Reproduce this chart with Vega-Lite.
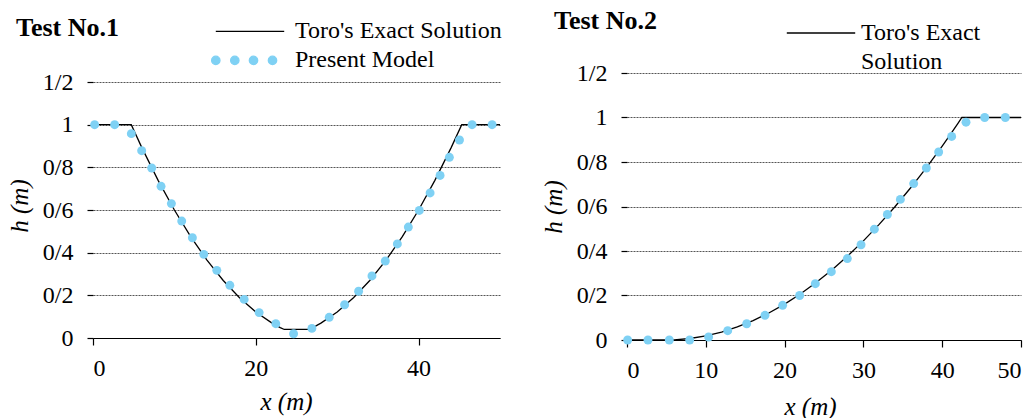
{
  "$schema": "https://vega.github.io/schema/vega-lite/v6.json",
  "background": "white",
  "padding": {"left": 7, "top": 8, "right": 0, "bottom": 0},
  "config": {
    "view": {"stroke": null},
    "axis": {
      "domainColor": "black",
      "domainWidth": 1.2,
      "tickColor": "black",
      "tickWidth": 1.2,
      "labelFontSize": 24,
      "labelColor": "black",
      "titleFontSize": 25,
      "titleFontStyle": "italic",
      "titleFontWeight": "normal",
      "titleColor": "black",
      "gridColor": "#555555",
      "gridDash": [2, 1],
      "gridWidth": 1
    },
    "axisX": {"grid": false, "tickSize": 7, "labelPadding": 11},
    "axisY": {"tickSize": 6, "labelPadding": 14, "titlePadding": 10, "domain": false},
    "legend": {
      "orient": "none",
      "title": null,
      "padding": 0,
      "labelFontSize": 24,
      "labelColor": "black",
      "labelLimit": 0,
      "symbolSize": 400,
      "rowPadding": 5
    }
  },
  "resolve": {
    "scale": {"color": "independent"},
    "legend": {"color": "independent"}
  },
  "concat": [
    {
      "width": 407,
      "height": 265,
      "title": {
        "text": "Test No.1",
        "anchor": "start",
        "frame": "group",
        "offset": -42.6,
        "dx": -77,
        "baseline": "alphabetic",
        "font": "Liberation Serif",
        "fontSize": 26,
        "fontWeight": "bold",
        "color": "black"
      },
      "encoding": {
        "x": {
          "field": "x",
          "type": "quantitative",
          "scale": {"domain": [0, 50], "nice": false},
          "axis": {
            "values": [0, 20, 40],
            "title": "x  (m)",
            "titleX": 193,
            "titlePadding": 9,
            "labelFont": "Liberation Serif",
            "titleFont": "Liberation Serif"
          }
        },
        "y": {
          "field": "h",
          "type": "quantitative",
          "scale": {"domain": [0, 1.2422], "nice": false},
          "axis": {
            "values": [0, 0.2, 0.4, 0.6, 0.8, 1, 1.2],
            "labelExpr": "replace(format(datum.value, '.1~f'), '.', '/')",
            "title": "h (m)",
            "grid": true,
            "labelFont": "Liberation Serif",
            "titleFont": "Liberation Serif"
          }
        }
      },
      "layer": [
        {
          "data": {"values": [{}]},
          "mark": {"type": "rect", "fill": null, "stroke": "#a6a6a6", "strokeWidth": 1},
          "encoding": {
            "x": {"datum": 0, "type": "quantitative"},
            "x2": {"datum": 50},
            "y": {"datum": 0, "type": "quantitative"},
            "y2": {"datum": 1.2}
          }
        },
        {
          "data": {"values": [{}]},
          "mark": {"type": "rule", "color": "black", "strokeWidth": 1.2},
          "encoding": {
            "x": {"datum": 0, "type": "quantitative"},
            "y": {"datum": 0, "type": "quantitative"},
            "y2": {"datum": 1.2}
          }
        },
        {
          "data": {
            "values": [
              {"x": 0, "h": 1, "series": "Toro's Exact Solution"},
              {"x": 4.7, "h": 1, "series": "Toro's Exact Solution"},
              {"x": 6, "h": 0.8924, "series": "Toro's Exact Solution"},
              {"x": 8, "h": 0.7389, "series": "Toro's Exact Solution"},
              {"x": 10, "h": 0.5998, "series": "Toro's Exact Solution"},
              {"x": 12, "h": 0.4752, "series": "Toro's Exact Solution"},
              {"x": 14, "h": 0.3651, "series": "Toro's Exact Solution"},
              {"x": 16, "h": 0.2695, "series": "Toro's Exact Solution"},
              {"x": 18, "h": 0.1884, "series": "Toro's Exact Solution"},
              {"x": 20, "h": 0.1218, "series": "Toro's Exact Solution"},
              {"x": 22, "h": 0.0696, "series": "Toro's Exact Solution"},
              {"x": 23, "h": 0.049, "series": "Toro's Exact Solution"},
              {"x": 23.5, "h": 0.04, "series": "Toro's Exact Solution"},
              {"x": 26.5, "h": 0.04, "series": "Toro's Exact Solution"},
              {"x": 27, "h": 0.049, "series": "Toro's Exact Solution"},
              {"x": 28, "h": 0.0696, "series": "Toro's Exact Solution"},
              {"x": 30, "h": 0.1218, "series": "Toro's Exact Solution"},
              {"x": 32, "h": 0.1884, "series": "Toro's Exact Solution"},
              {"x": 34, "h": 0.2695, "series": "Toro's Exact Solution"},
              {"x": 36, "h": 0.3651, "series": "Toro's Exact Solution"},
              {"x": 38, "h": 0.4752, "series": "Toro's Exact Solution"},
              {"x": 40, "h": 0.5998, "series": "Toro's Exact Solution"},
              {"x": 42, "h": 0.7389, "series": "Toro's Exact Solution"},
              {"x": 44, "h": 0.8924, "series": "Toro's Exact Solution"},
              {"x": 45.3, "h": 1, "series": "Toro's Exact Solution"},
              {"x": 50, "h": 1, "series": "Toro's Exact Solution"}
            ]
          },
          "mark": {"type": "line", "strokeWidth": 1.3},
          "encoding": {
            "color": {
              "field": "series",
              "type": "nominal",
              "scale": {
                "domain": ["Toro's Exact Solution", "Present Model"],
                "range": ["black", "#7fd1f4"]
              },
              "legend": {
                "legendX": 145,
                "legendY": -53.6,
                "labelOffset": 33,
                "labelFont": "Liberation Serif",
                "encode": {
                  "symbols": {
                    "update": {
                      "shape": {"signal": "datum.value === 'Present Model' ? 'M-3.84,0A0.42 0.42 0 1 0 -3,0A0.42 0.42 0 1 0 -3.84,0ZM-1.94,0A0.42 0.42 0 1 0 -1.1,0A0.42 0.42 0 1 0 -1.94,0ZM-0.07,0A0.42 0.42 0 1 0 0.77,0A0.42 0.42 0 1 0 -0.07,0ZM1.83,0A0.42 0.42 0 1 0 2.67,0A0.42 0.42 0 1 0 1.83,0Z' : 'M-3.42,0L3.42,0'"},
                      "fill": {"signal": "datum.value === 'Present Model' ? '#7fd1f4' : 'transparent'"},
                      "stroke": {"signal": "datum.value === 'Present Model' ? 'transparent' : 'black'"},
                      "strokeWidth": {"value": 1.3},
                      "size": {"value": 400},
                      "opacity": {"value": 1}
                    }
                  }
                }
              }
            }
          }
        },
        {
          "data": {
            "values": [
              {"x": 0.2, "h": 1.0, "series": "Present Model"},
              {"x": 2.66, "h": 1.0, "series": "Present Model"},
              {"x": 4.71, "h": 0.958, "series": "Present Model"},
              {"x": 5.98, "h": 0.878, "series": "Present Model"},
              {"x": 7.21, "h": 0.797, "series": "Present Model"},
              {"x": 8.36, "h": 0.711, "series": "Present Model"},
              {"x": 9.63, "h": 0.63, "series": "Present Model"},
              {"x": 10.9, "h": 0.548, "series": "Present Model"},
              {"x": 12.21, "h": 0.47, "series": "Present Model"},
              {"x": 13.61, "h": 0.392, "series": "Present Model"},
              {"x": 15.21, "h": 0.317, "series": "Present Model"},
              {"x": 16.81, "h": 0.247, "series": "Present Model"},
              {"x": 18.57, "h": 0.181, "series": "Present Model"},
              {"x": 20.41, "h": 0.119, "series": "Present Model"},
              {"x": 22.46, "h": 0.067, "series": "Present Model"},
              {"x": 24.64, "h": 0.02, "series": "Present Model"},
              {"x": 26.89, "h": 0.045, "series": "Present Model"},
              {"x": 29.02, "h": 0.097, "series": "Present Model"},
              {"x": 30.91, "h": 0.156, "series": "Present Model"},
              {"x": 32.63, "h": 0.219, "series": "Present Model"},
              {"x": 34.27, "h": 0.291, "series": "Present Model"},
              {"x": 35.91, "h": 0.361, "series": "Present Model"},
              {"x": 37.39, "h": 0.441, "series": "Present Model"},
              {"x": 38.74, "h": 0.52, "series": "Present Model"},
              {"x": 40.09, "h": 0.598, "series": "Present Model"},
              {"x": 41.41, "h": 0.68, "series": "Present Model"},
              {"x": 42.64, "h": 0.762, "series": "Present Model"},
              {"x": 43.78, "h": 0.847, "series": "Present Model"},
              {"x": 45.02, "h": 0.928, "series": "Present Model"},
              {"x": 46.57, "h": 1.0, "series": "Present Model"},
              {"x": 49.03, "h": 1.0, "series": "Present Model"}
            ]
          },
          "mark": {"type": "circle", "size": 80, "opacity": 1},
          "encoding": {
            "color": {
              "field": "series",
              "type": "nominal",
              "scale": {
                "domain": ["Toro's Exact Solution", "Present Model"],
                "range": ["black", "#7fd1f4"]
              }
            }
          }
        }
      ]
    },
    {
      "width": 394,
      "height": 267,
      "title": {
        "text": "Test No.2",
        "anchor": "start",
        "frame": "group",
        "offset": -34.3,
        "dx": -73,
        "baseline": "alphabetic",
        "font": "Liberation Serif",
        "fontSize": 26,
        "fontWeight": "bold",
        "color": "black"
      },
      "encoding": {
        "x": {
          "field": "x",
          "type": "quantitative",
          "scale": {"domain": [0, 50], "nice": false},
          "axis": {
            "values": [0, 10, 20, 30, 40, 50],
            "title": "x  (m)",
            "titleX": 183,
            "titlePadding": 12,
            "labelFont": "Liberation Serif",
            "titleFont": "Liberation Serif"
          }
        },
        "y": {
          "field": "h",
          "type": "quantitative",
          "scale": {"domain": [0, 1.2], "nice": false},
          "axis": {
            "values": [0, 0.2, 0.4, 0.6, 0.8, 1, 1.2],
            "labelExpr": "replace(format(datum.value, '.1~f'), '.', '/')",
            "title": "h (m)",
            "grid": true,
            "labelFont": "Liberation Serif",
            "titleFont": "Liberation Serif"
          }
        }
      },
      "layer": [
        {
          "data": {"values": [{}]},
          "mark": {"type": "rect", "fill": null, "stroke": "#a6a6a6", "strokeWidth": 1},
          "encoding": {
            "x": {"datum": 0, "type": "quantitative"},
            "x2": {"datum": 50},
            "y": {"datum": 0, "type": "quantitative"},
            "y2": {"datum": 1.2}
          }
        },
        {
          "data": {"values": [{}]},
          "mark": {"type": "rule", "color": "black", "strokeWidth": 1.2},
          "encoding": {
            "x": {"datum": 0, "type": "quantitative"},
            "y": {"datum": 0, "type": "quantitative"},
            "y2": {"datum": 1.2}
          }
        },
        {
          "data": {
            "values": [
              {"x": 0, "h": 0, "series": "Toro's Exact Solution"},
              {"x": 4.9, "h": 0, "series": "Toro's Exact Solution"},
              {"x": 6, "h": 0.0009, "series": "Toro's Exact Solution"},
              {"x": 8, "h": 0.0068, "series": "Toro's Exact Solution"},
              {"x": 10, "h": 0.0184, "series": "Toro's Exact Solution"},
              {"x": 12, "h": 0.0357, "series": "Toro's Exact Solution"},
              {"x": 14, "h": 0.0586, "series": "Toro's Exact Solution"},
              {"x": 16, "h": 0.0872, "series": "Toro's Exact Solution"},
              {"x": 18, "h": 0.1214, "series": "Toro's Exact Solution"},
              {"x": 20, "h": 0.1613, "series": "Toro's Exact Solution"},
              {"x": 22, "h": 0.2068, "series": "Toro's Exact Solution"},
              {"x": 24, "h": 0.258, "series": "Toro's Exact Solution"},
              {"x": 26, "h": 0.3149, "series": "Toro's Exact Solution"},
              {"x": 28, "h": 0.3774, "series": "Toro's Exact Solution"},
              {"x": 30, "h": 0.4456, "series": "Toro's Exact Solution"},
              {"x": 32, "h": 0.5195, "series": "Toro's Exact Solution"},
              {"x": 34, "h": 0.599, "series": "Toro's Exact Solution"},
              {"x": 36, "h": 0.6841, "series": "Toro's Exact Solution"},
              {"x": 38, "h": 0.775, "series": "Toro's Exact Solution"},
              {"x": 40, "h": 0.8715, "series": "Toro's Exact Solution"},
              {"x": 41, "h": 0.9218, "series": "Toro's Exact Solution"},
              {"x": 42, "h": 0.9736, "series": "Toro's Exact Solution"},
              {"x": 42.5, "h": 1, "series": "Toro's Exact Solution"},
              {"x": 50, "h": 1, "series": "Toro's Exact Solution"}
            ]
          },
          "mark": {"type": "line", "strokeWidth": 1.3},
          "encoding": {
            "color": {
              "field": "series",
              "type": "nominal",
              "scale": {"domain": ["Toro's Exact Solution"], "range": ["black"]},
              "legend": {
                "legendX": 182,
                "legendY": -52,
                "labelOffset": 28,
                "labelFont": "Liberation Serif",
                "labelExpr": "[\"Toro's Exact\", \"Solution\"]",
                "encode": {
                  "symbols": {
                    "update": {
                      "shape": {"value": "M-3.42,0L3.42,0"},
                      "fill": {"value": "transparent"},
                      "stroke": {"value": "black"},
                      "strokeWidth": {"value": 1.3},
                      "size": {"value": 400},
                      "opacity": {"value": 1}
                    }
                  },
                  "labels": {
                    "update": {
                      "lineHeight": {"value": 29},
                      "baseline": {"value": "middle"},
                      "dy": {"value": 0}
                    }
                  }
                }
              }
            }
          }
        },
        {
          "data": {
            "values": [
              {"x": 0.08, "h": 0},
              {"x": 2.66, "h": 0},
              {"x": 5.37, "h": 0},
              {"x": 7.95, "h": 0},
              {"x": 10.36, "h": 0.0135},
              {"x": 12.78, "h": 0.042},
              {"x": 15.19, "h": 0.073},
              {"x": 17.51, "h": 0.111},
              {"x": 19.75, "h": 0.156},
              {"x": 21.91, "h": 0.2},
              {"x": 23.9, "h": 0.253},
              {"x": 25.93, "h": 0.307},
              {"x": 27.96, "h": 0.366},
              {"x": 29.7, "h": 0.428},
              {"x": 31.39, "h": 0.498},
              {"x": 33.04, "h": 0.564},
              {"x": 34.69, "h": 0.632},
              {"x": 36.38, "h": 0.703},
              {"x": 37.99, "h": 0.773},
              {"x": 39.55, "h": 0.845},
              {"x": 41.2, "h": 0.915},
              {"x": 43.02, "h": 0.979},
              {"x": 45.39, "h": 1.0},
              {"x": 48.01, "h": 1.0}
            ]
          },
          "mark": {"type": "circle", "size": 80, "opacity": 1, "color": "#7fd1f4"}
        }
      ]
    }
  ],
  "columns": 2,
  "align": "none",
  "spacing": 38
}
